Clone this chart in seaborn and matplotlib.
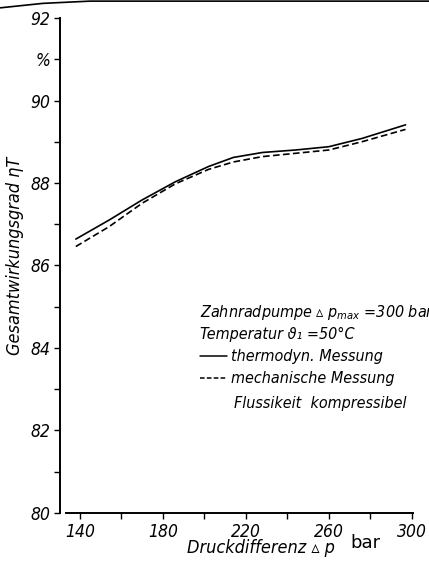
import pandas as pd
import seaborn as sns
import matplotlib.pyplot as plt
from matplotlib.lines import Line2D

# Data
druck = [138, 154, 170, 186, 202, 214, 228, 244, 260, 276, 297]
eta_thermo = [86.64, 87.10, 87.59, 88.03, 88.40, 88.62, 88.74, 88.80, 88.88, 89.08, 89.41]
eta_mech = [86.46, 86.94, 87.51, 87.98, 88.33, 88.51, 88.64, 88.72, 88.80, 89.00, 89.30]
x_ticks = [140, 180, 220, 260, 300]
y_ticks = [80, 82, 84, 86, 88, 90, 92]

lab_thermo = "thermodyn. Messung"
lab_mech = "mechanische Messung"

df = pd.DataFrame({
    "p": druck + druck,
    "eta": eta_thermo + eta_mech,
    "Messung": [lab_thermo] * len(druck) + [lab_mech] * len(druck),
})

sns.set_style("ticks")
plt.rcParams["font.family"] = ["DejaVu Sans"]
plt.rcParams["font.stretch"] = "condensed"
plt.rcParams["text.color"] = "black"
plt.rcParams["xtick.color"] = "black"
plt.rcParams["ytick.color"] = "black"
plt.rcParams["mathtext.fontset"] = "custom"
plt.rcParams["mathtext.it"] = "DejaVu Sans:italic"
plt.rcParams["mathtext.rm"] = "DejaVu Sans:italic"
plt.rcParams["mathtext.fallback"] = "stix"

fig = plt.figure(figsize=(4.29, 5.61), dpi=100)
ax = fig.add_axes([0.14, 0.0856, 0.8227, 0.8823])

sns.lineplot(data=df, x="p", y="eta", hue="Messung", style="Messung",
             palette={lab_thermo: "black", lab_mech: "black"},
             dashes={lab_thermo: "", lab_mech: (4, 2)},
             linewidth=1.2, ax=ax, legend=False)

ax.set_xlim(130.4, 300.6)
ax.set_ylim(80, 92)
sns.despine(ax=ax)
ax.spines["left"].set_linewidth(1.4)
ax.spines["bottom"].set_linewidth(1.4)
ax.spines["left"].set_color("black")
ax.spines["bottom"].set_color("black")
ax.spines["bottom"].set_bounds(133.5, 300.6)

# y ticks: even values labelled, 91 carries the unit
yt = list(range(80, 93))
ylabels = [str(v) if v in y_ticks else ("%" if v == 91 else "") for v in yt]
ax.set_yticks(yt)
ax.set_yticklabels(ylabels, fontstyle="italic", fontsize=12.5)
ax.set_xticks(x_ticks)
ax.set_xticklabels([str(v) for v in x_ticks], fontstyle="italic", fontsize=12.5)
ax.set_xticks([160, 200, 240, 280], minor=True)
ax.tick_params(axis="both", which="both", length=4, width=1, pad=3)

ax.set_xlabel("")
ax.set_ylabel("")
ax.text(-0.127, 0.52, "Gesamtwirkungsgrad ηT", transform=ax.transAxes,
        rotation=90, ha="center", va="center", fontsize=13, fontstyle="italic")
ax.text(0.57, -0.071, "Druckdifferenz ▵ p", transform=ax.transAxes,
        ha="center", va="center", fontsize=13, fontstyle="italic")
ax.text(0.864, -0.061, "bar", transform=ax.transAxes, ha="center", va="center",
        fontsize=13, fontstretch="normal")

# Annotation block
fs = 11.5
ax.text(197.8, 84.75, "Zahnradpumpe ▵ $p_{max}$ =300 bar", fontsize=fs,
        fontstyle="italic", va="baseline")
ax.text(197.8, 84.22, "Temperatur ϑ₁ =50°C", fontsize=fs,
        fontstyle="italic", va="baseline")
handles = [Line2D([], [], color="black", lw=1.1),
           Line2D([], [], color="black", lw=1.1, dashes=(3, 1.5))]
ax.legend(handles, [lab_thermo, lab_mech], loc="upper left",
          bbox_to_anchor=(197.8, 83.97), bbox_transform=ax.transData,
          frameon=False, handlelength=1.7, handletextpad=0.25,
          labelspacing=0.45, borderaxespad=0, borderpad=0,
          prop={"style": "italic", "size": fs})
ax.text(214.2, 82.55, "Flussikeit  kompressibel", fontsize=fs,
        fontstyle="italic", va="baseline")

# scanned page edge
fig.add_artist(Line2D([0, 0.1, 0.21, 1.0], [0.986, 0.994, 0.998, 0.998],
                      color="black", lw=1.2, transform=fig.transFigure))

fig.savefig("out.png", dpi=100)
